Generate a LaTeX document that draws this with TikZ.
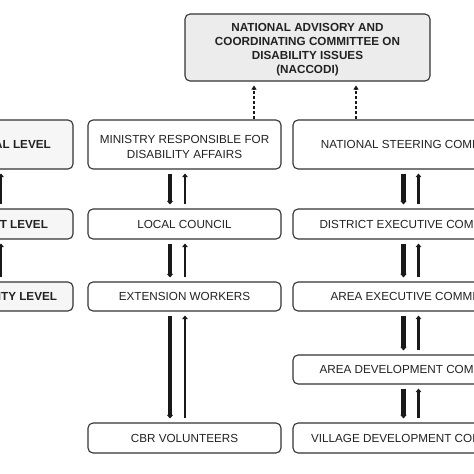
\documentclass[tikz,border=0pt]{standalone}
\usepackage{fontspec}
\setmainfont{Liberation Sans}
\usetikzlibrary{arrows.meta}
\definecolor{boxline}{HTML}{333333}
\definecolor{boxtext}{HTML}{222222}
\tikzset{
	boxtxt/.style={inner sep=0pt,align=center,text=boxtext,
		font=\fontsize{11.7}{14}\selectfont},
	boldtxt/.style={boxtxt,font=\fontsize{11.7}{14}\selectfont\bfseries},
	box/.style={boxtxt,draw=boxline,line width=1.1pt,rounded corners=5pt},
	levelbox/.style={box,fill=gray!7,minimum width=145pt,
		font=\fontsize{11.7}{14}\selectfont\bfseries},
	midbox/.style={box,minimum width=193pt},
	rightbox/.style={box,minimum width=250pt},
	downarrow/.style={-{Triangle[length=3.5pt,width=6pt]},line width=4.2pt,
		draw=black!90,shorten <=4pt,shorten >=4pt},
	uparrow/.style={-{Triangle[length=3.5pt,width=5.5pt]},line width=2.9pt,
		draw=black!90,shorten <=4pt,shorten >=4pt},
	dasharrow/.style={-{Triangle[length=4pt,width=5pt]},line width=1.3pt,
		dash pattern=on 3pt off 2pt,draw=black!90,shorten >=4pt}
}
\begin{document}
\begin{tikzpicture}[x=1pt,y=-1pt]
	\path[use as bounding box,clip] (0,0) rectangle (474,474);
	% top committee
	\node[box,fill=gray!15,minimum width=245pt,minimum height=67pt] (naccodi) at (307.5,47.5) {};
	\node[boldtxt] (naccoditxt) at ([yshift=-2.5pt]naccodi.center)
	{NATIONAL ADVISORY AND\\COORDINATING COMMITTEE ON\\DISABILITY ISSUES\\(NACCODI)};
	% levels
	\foreach \y/\h/\name/\texn in {144.5/49/national/NATIONAL LEVEL,
		224/30/district/DISTRICT LEVEL, 296.5/29/community/COMMUNITY LEVEL}
	\path (0.5,\y) node[levelbox,minimum height=\h] (\name) {\texn};
	% ministry column
	\node[midbox,minimum height=49pt] (ministry) at (184.5,144.5) {};
	\node[boxtxt] (ministrytxt) at ([yshift=-2.5pt]ministry.center)
	{MINISTRY RESPONSIBLE FOR\\[1.7pt]DISABILITY AFFAIRS};
	\foreach \y/\h/\name/\texn in {224/30/council/LOCAL COUNCIL,
		296.5/29/extension/EXTENSION WORKERS, 438/30/cbr/CBR VOLUNTEERS}
	\path (184.5,\y) node[midbox,minimum height=\h] (\name) {\texn};
	% committee column
	\foreach \y/\h/\name/\texn in {144.5/49/steering/NATIONAL STEERING COMMITTEE,
		224/30/dec/DISTRICT EXECUTIVE COMMITTEE, 296.5/29/aec/AREA EXECUTIVE COMMITTEE,
		369.5/29/adc/AREA DEVELOPMENT COMMITTEE, 438/30/vdc/VILLAGE DEVELOPMENT COMMITTEE}
	\path (418,\y) node[rightbox,minimum height=\h] (\name) {\texn};
	% two way links
	\foreach \a/\b in {ministry/council, council/extension, extension/cbr,
		steering/dec, dec/aec, aec/adc, adc/vdc}
	{\draw[downarrow] ([xshift=-14.5pt]\a.south) -- ([xshift=-14.5pt]\b.north);
		\draw[uparrow] ([xshift=0.5pt]\b.north) -- ([xshift=0.5pt]\a.south);}
	\foreach \a/\b in {national/district, district/community}
	\draw[uparrow] ([xshift=0.5pt]\b.north) -- ([xshift=0.5pt]\a.south);
	% advisory links
	\draw[dasharrow] ([xshift=69.5pt]ministry.north) -- ([xshift=69.5pt]ministry.north |- naccodi.south);
	\draw[dasharrow] ([xshift=-62pt]steering.north) -- ([xshift=-62pt]steering.north |- naccodi.south);
\end{tikzpicture}
\end{document}
